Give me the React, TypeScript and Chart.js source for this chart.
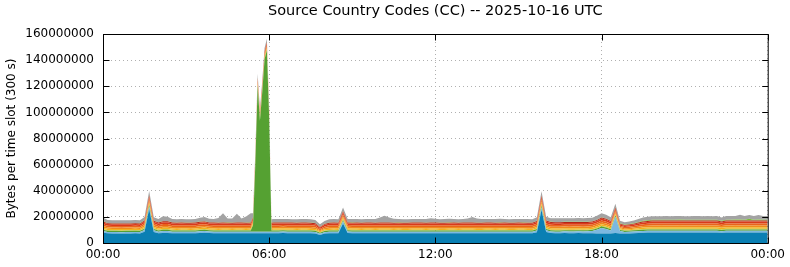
import React, { useEffect, useRef } from 'react';
import { Chart, registerables } from 'chart.js';

Chart.register(...registerables);

// Sample times (minutes after 00:00): every 10 minutes, plus the 5-minute slots around the 06:00 burst
const GRID_STEP_MINUTES = 10;
const EXTRA_SLOTS = [325, 335, 345, 355, 365];
const TIMES = Array.from({ length: 145 }, (_, i) => i * GRID_STEP_MINUTES).concat(EXTRA_SLOTS).sort((a, b) => a - b);

// Values in millions of bytes, one per sample time (150 samples)
const SERIES_NAMES = ['CC1', 'CC2', 'CC3', 'CC4', 'CC5', 'CC6', 'CC7', 'CC8', 'CC9', 'CC10', 'CC11'];
const SERIES_COLORS = ['#0a7fb3', '#7cb8e0', '#55a132', '#c9c83e', '#f2b21e', '#f08b1c', '#e8641c', '#d83a1a', '#b32418', '#7dbb3c', '#a3a3a3'];

const cc1 = [
  7.8, 7.4, 7.3, 7.3, 7.2, 7.3, 7.3, 7.4, 7.3, 8.6, 26.0, 8.4,
  7.5, 7.7, 7.7, 7.5, 7.4, 7.5, 7.5, 7.4, 7.5, 7.6, 7.8, 7.6,
  7.5, 7.4, 7.5, 7.5, 7.4, 7.5, 7.5, 7.4, 7.5,
  7.4, 7.4, 7.4, 7.4, 7.4, 7.4, 7.4, 7.4, 7.4,
  7.5, 7.5, 7.6, 7.5, 7.5, 7.4, 7.5, 7.5, 7.4, 7.3, 6.2,
  7.2, 7.4, 7.5, 7.4, 15.0, 7.6, 7.5, 7.5, 7.4, 7.5, 7.5, 7.4,
  7.5, 7.5, 7.5, 7.4, 7.5, 7.4, 7.4, 7.5, 7.5, 7.5, 7.4, 7.5,
  7.5, 7.4, 7.4, 7.5, 7.5, 7.4, 7.5, 7.5, 7.5, 7.4, 7.4, 7.5,
  7.5, 7.4, 7.5, 7.5, 7.4, 7.4, 7.5, 7.5, 7.4, 7.4, 8.2, 25.5,
  8.4, 7.6, 7.5, 7.5, 7.6, 7.5, 7.5, 7.6, 7.5, 7.5, 7.4, 7.3,
  7.2, 7.3, 7.3, 7.6, 7.3, 7.2, 7.3, 7.5, 7.7, 7.9, 8.0, 8.0,
  8.0, 8.1, 8.0, 8.0, 8.0, 8.1, 8.0, 8.0, 8.0, 8.1, 8.0, 8.0,
  8.0, 8.0, 7.8, 8.0, 8.0, 8.1, 8.0, 8.0, 8.0, 8.0, 8.1, 8.0,
  8.0,
];
const cc2 = [
  1.3, 1.1, 1.1, 1.1, 1.1, 1.1, 1.1, 1.1, 1.1, 1.3, 1.8, 1.3,
  1.2, 1.4, 1.4, 1.2, 1.2, 1.2, 1.2, 1.2, 1.2, 1.3, 1.4, 1.2,
  1.2, 1.2, 1.2, 1.2, 1.2, 1.2, 1.2, 1.2, 1.2,
  1.2, 1.2, 1.2, 1.2, 1.2, 1.2, 1.2, 1.2, 1.2,
  1.2, 1.2, 1.2, 1.2, 1.2, 1.2, 1.2, 1.2, 1.2, 1.1, 0.9,
  1.1, 1.2, 1.2, 1.2, 1.6, 1.2, 1.2, 1.2, 1.2, 1.2, 1.2, 1.2,
  1.2, 1.2, 1.2, 1.2, 1.2, 1.2, 1.2, 1.2, 1.2, 1.2, 1.2, 1.2,
  1.2, 1.2, 1.2, 1.2, 1.2, 1.2, 1.2, 1.2, 1.2, 1.2, 1.2, 1.2,
  1.2, 1.2, 1.2, 1.2, 1.2, 1.2, 1.2, 1.2, 1.2, 1.2, 1.4, 2.0,
  1.4, 1.2, 1.2, 1.2, 1.3, 1.3, 1.3, 1.3, 1.3, 1.4, 1.8, 2.8,
  4.2, 3.5, 2.2, 12.5, 1.8, 1.3, 1.3, 1.3, 1.3, 1.3, 1.3, 1.3,
  1.3, 1.3, 1.3, 1.3, 1.3, 1.3, 1.3, 1.3, 1.3, 1.3, 1.3, 1.3,
  1.3, 1.3, 1.2, 1.3, 1.3, 1.3, 1.3, 1.3, 1.3, 1.3, 1.3, 1.3,
  1.3,
];
const cc3 = [
  1.0, 0.9, 0.9, 0.9, 0.9, 0.9, 0.9, 0.9, 0.9, 1.0, 1.2, 1.0,
  0.9, 1.0, 1.0, 0.9, 0.9, 0.9, 0.9, 0.9, 0.9, 1.0, 1.0, 0.9,
  0.9, 0.9, 0.9, 0.9, 0.9, 0.9, 0.9, 0.9, 0.9,
  5.0, 52.0, 112.0, 85.0, 107.0, 132.0, 139.0, 87.0, 0.9,
  0.9, 0.9, 0.9, 0.9, 0.9, 0.9, 0.9, 0.9, 0.9, 0.9, 0.7,
  0.8, 0.9, 0.9, 0.9, 1.1, 0.9, 0.9, 0.9, 0.9, 0.9, 0.9, 0.9,
  0.9, 0.9, 0.9, 0.9, 0.9, 0.9, 0.9, 0.9, 0.9, 0.9, 0.9, 0.9,
  0.9, 0.9, 0.9, 0.9, 0.9, 0.9, 0.9, 0.9, 0.9, 0.9, 0.9, 0.9,
  0.9, 0.9, 0.9, 0.9, 0.9, 0.9, 0.9, 0.9, 0.9, 0.9, 1.0, 1.3,
  1.0, 0.9, 0.9, 0.9, 0.9, 0.9, 0.9, 0.9, 0.9, 0.9, 0.9, 1.0,
  1.2, 1.1, 1.0, 1.0, 0.9, 0.8, 0.8, 0.9, 0.9, 1.0, 1.0, 1.0,
  1.0, 1.0, 1.0, 1.0, 1.0, 1.0, 1.0, 1.0, 1.0, 1.0, 1.0, 1.0,
  1.0, 1.0, 0.95, 1.0, 1.0, 1.0, 1.0, 1.0, 1.0, 1.0, 1.0, 1.0,
  1.0,
];
const cc4 = [
  0.53, 0.48, 0.47, 0.48, 0.48, 0.47, 0.48, 0.48, 0.47, 0.53, 0.63, 0.52,
  0.5, 0.55, 0.55, 0.5, 0.5, 0.5, 0.49, 0.5, 0.5, 0.52, 0.53, 0.5,
  0.5, 0.5, 0.5, 0.5, 0.5, 0.5, 0.5, 0.5, 0.5,
  0.5, 0.5, 0.5, 0.5, 0.5, 0.5, 0.5, 0.5, 0.5,
  0.5, 0.5, 0.5, 0.5, 0.5, 0.5, 0.5, 0.5, 0.5, 0.48, 0.38,
  0.45, 0.5, 0.5, 0.5, 0.55, 0.5, 0.5, 0.5, 0.5, 0.5, 0.5, 0.5,
  0.5, 0.5, 0.5, 0.5, 0.5, 0.5, 0.5, 0.5, 0.5, 0.5, 0.5, 0.5,
  0.5, 0.5, 0.5, 0.5, 0.5, 0.5, 0.5, 0.5, 0.5, 0.5, 0.5, 0.5,
  0.5, 0.5, 0.5, 0.5, 0.5, 0.5, 0.5, 0.5, 0.5, 0.5, 0.53, 0.63,
  0.53, 0.52, 0.52, 0.53, 0.52, 0.52, 0.53, 0.52, 0.52, 0.53, 0.52, 0.55,
  0.58, 0.55, 0.53, 0.5, 0.4, 0.38, 0.4, 0.43, 0.48, 0.53, 0.55, 0.58,
  0.58, 0.58, 0.58, 0.58, 0.58, 0.58, 0.58, 0.58, 0.58, 0.58, 0.58, 0.58,
  0.58, 0.58, 0.55, 0.58, 0.58, 0.58, 0.58, 0.58, 0.58, 0.58, 0.58, 0.58,
  0.58,
];
const cc5 = [
  1.05, 0.95, 0.94, 0.95, 0.95, 0.94, 0.95, 0.96, 0.95, 1.05, 1.25, 1.05,
  1.0, 1.1, 1.1, 1.0, 1.0, 1.0, 0.98, 1.0, 1.0, 1.05, 1.05, 1.0,
  1.0, 1.0, 1.0, 1.0, 1.0, 1.0, 1.0, 1.0, 1.0,
  1.0, 1.0, 1.0, 1.0, 1.0, 1.0, 1.0, 1.0, 1.0,
  1.0, 1.0, 1.0, 1.0, 1.0, 1.0, 1.0, 1.0, 1.0, 0.97, 0.75,
  0.9, 1.0, 1.0, 1.0, 1.1, 1.0, 1.0, 1.0, 1.0, 1.0, 1.0, 1.0,
  1.0, 1.0, 1.0, 1.0, 1.0, 1.0, 1.0, 1.0, 1.0, 1.0, 1.0, 1.0,
  1.0, 1.0, 1.0, 1.0, 1.0, 1.0, 1.0, 1.0, 1.0, 1.0, 1.0, 1.0,
  1.0, 1.0, 1.0, 1.0, 1.0, 1.0, 1.0, 1.0, 1.0, 1.0, 1.05, 1.25,
  1.05, 1.05, 1.04, 1.05, 1.05, 1.05, 1.06, 1.05, 1.05, 1.05, 1.05, 1.1,
  1.15, 1.1, 1.05, 1.0, 0.8, 0.75, 0.8, 0.85, 0.95, 1.05, 1.1, 1.15,
  1.15, 1.15, 1.15, 1.15, 1.15, 1.15, 1.15, 1.15, 1.15, 1.15, 1.15, 1.15,
  1.15, 1.15, 1.1, 1.15, 1.15, 1.15, 1.15, 1.15, 1.15, 1.15, 1.15, 1.15,
  1.15,
];
const cc6 = [
  1.26, 1.14, 1.13, 1.14, 1.14, 1.13, 1.14, 1.15, 1.14, 1.26, 1.5, 1.26,
  1.2, 1.32, 1.32, 1.2, 1.2, 1.2, 1.18, 1.2, 1.2, 1.26, 1.26, 1.2,
  1.2, 1.2, 1.2, 1.2, 1.2, 1.2, 1.2, 1.2, 1.2,
  1.2, 1.2, 1.2, 1.2, 1.2, 1.2, 1.2, 1.2, 1.2,
  1.2, 1.2, 1.2, 1.2, 1.2, 1.2, 1.2, 1.2, 1.2, 1.16, 0.9,
  1.08, 1.2, 1.2, 1.2, 1.32, 1.2, 1.2, 1.2, 1.2, 1.2, 1.2, 1.2,
  1.2, 1.2, 1.2, 1.2, 1.2, 1.2, 1.2, 1.2, 1.2, 1.2, 1.2, 1.2,
  1.2, 1.2, 1.2, 1.2, 1.2, 1.2, 1.2, 1.2, 1.2, 1.2, 1.2, 1.2,
  1.2, 1.2, 1.2, 1.2, 1.2, 1.2, 1.2, 1.2, 1.2, 1.2, 1.26, 1.5,
  1.26, 1.26, 1.26, 1.26, 1.26, 1.26, 1.26, 1.26, 1.26, 1.26, 1.26, 1.32,
  1.38, 1.32, 1.26, 1.2, 0.96, 0.9, 0.96, 1.02, 1.14, 1.26, 1.32, 1.38,
  1.38, 1.38, 1.38, 1.38, 1.38, 1.38, 1.38, 1.38, 1.38, 1.38, 1.38, 1.38,
  1.38, 1.38, 1.32, 1.38, 1.38, 1.38, 1.38, 1.38, 1.38, 1.38, 1.38, 1.38,
  1.38,
];
const cc7 = [
  1.37, 1.24, 1.23, 1.24, 1.24, 1.23, 1.24, 1.25, 1.24, 1.37, 1.63, 1.37,
  1.3, 1.43, 1.43, 1.3, 1.3, 1.3, 1.28, 1.3, 1.3, 1.37, 1.37, 1.3,
  1.3, 1.3, 1.3, 1.3, 1.3, 1.3, 1.3, 1.3, 1.3,
  1.3, 1.3, 1.3, 1.3, 1.3, 1.3, 1.3, 1.3, 1.3,
  1.3, 1.3, 1.3, 1.3, 1.3, 1.3, 1.3, 1.3, 1.3, 1.26, 0.98,
  1.17, 1.3, 1.3, 1.3, 1.43, 1.3, 1.3, 1.3, 1.3, 1.3, 1.3, 1.3,
  1.3, 1.3, 1.3, 1.3, 1.3, 1.3, 1.3, 1.3, 1.3, 1.3, 1.3, 1.3,
  1.3, 1.3, 1.3, 1.3, 1.3, 1.3, 1.3, 1.3, 1.3, 1.3, 1.3, 1.3,
  1.3, 1.3, 1.3, 1.3, 1.3, 1.3, 1.3, 1.3, 1.3, 1.3, 1.37, 1.63,
  1.37, 1.37, 1.37, 1.37, 1.37, 1.37, 1.37, 1.37, 1.37, 1.37, 1.37, 1.43,
  1.5, 1.43, 1.37, 1.3, 1.04, 0.98, 1.04, 1.1, 1.24, 1.37, 1.43, 1.5,
  1.5, 1.5, 1.5, 1.5, 1.5, 1.5, 1.5, 1.5, 1.5, 1.5, 1.5, 1.5,
  1.5, 1.5, 1.43, 1.5, 1.5, 1.5, 1.5, 1.5, 1.5, 1.5, 1.5, 1.5,
  1.5,
];
const cc8 = [
  1.38, 1.25, 1.24, 1.23, 1.25, 1.24, 1.23, 1.24, 1.25, 1.36, 1.62, 1.38,
  1.31, 1.42, 1.44, 1.3, 1.29, 1.31, 1.29, 1.3, 1.31, 1.36, 1.38, 1.3,
  1.3, 1.31, 1.3, 1.29, 1.3, 1.31, 1.3, 1.3, 1.29,
  1.3, 1.3, 1.3, 1.3, 1.3, 1.3, 1.3, 1.3, 1.3,
  1.31, 1.3, 1.29, 1.3, 1.3, 1.31, 1.3, 1.3, 1.29, 1.25, 0.97,
  1.18, 1.3, 1.31, 1.3, 1.44, 1.3, 1.29, 1.3, 1.31, 1.3, 1.3, 1.29,
  1.3, 1.31, 1.3, 1.3, 1.29, 1.3, 1.31, 1.3, 1.3, 1.3, 1.29, 1.3,
  1.31, 1.3, 1.3, 1.29, 1.3, 1.3, 1.31, 1.3, 1.3, 1.29, 1.3, 1.31,
  1.3, 1.3, 1.29, 1.3, 1.31, 1.3, 1.3, 1.29, 1.3, 1.3, 1.36, 1.64,
  1.38, 1.37, 1.36, 1.38, 1.37, 1.37, 1.38, 1.36, 1.37, 1.38, 1.37, 1.42,
  1.51, 1.44, 1.36, 1.3, 1.05, 0.97, 1.03, 1.11, 1.25, 1.36, 1.44, 1.5,
  1.51, 1.5, 1.49, 1.5, 1.51, 1.5, 1.5, 1.49, 1.51, 1.5, 1.5, 1.49,
  1.5, 1.51, 1.42, 1.5, 1.49, 1.5, 1.51, 1.5, 1.5, 1.49, 1.5, 1.51,
  1.5,
];
const cc9 = [
  0.74, 0.67, 0.66, 0.67, 0.67, 0.66, 0.67, 0.67, 0.67, 0.74, 0.88, 0.74,
  0.7, 0.77, 0.77, 0.7, 0.7, 0.7, 0.69, 0.7, 0.7, 0.74, 0.74, 0.7,
  0.7, 0.7, 0.7, 0.7, 0.7, 0.7, 0.7, 0.7, 0.7,
  0.7, 0.7, 0.7, 0.7, 0.7, 0.7, 0.7, 0.7, 0.7,
  0.7, 0.7, 0.7, 0.7, 0.7, 0.7, 0.7, 0.7, 0.7, 0.68, 0.53,
  0.63, 0.7, 0.7, 0.7, 0.77, 0.7, 0.7, 0.7, 0.7, 0.7, 0.7, 0.7,
  0.7, 0.7, 0.7, 0.7, 0.7, 0.7, 0.7, 0.7, 0.7, 0.7, 0.7, 0.7,
  0.7, 0.7, 0.7, 0.7, 0.7, 0.7, 0.7, 0.7, 0.7, 0.7, 0.7, 0.7,
  0.7, 0.7, 0.7, 0.7, 0.7, 0.7, 0.7, 0.7, 0.7, 0.7, 0.74, 0.88,
  0.74, 0.74, 0.74, 0.74, 0.74, 0.74, 0.74, 0.74, 0.74, 0.74, 0.74, 0.77,
  0.8, 0.77, 0.74, 0.7, 0.56, 0.53, 0.56, 0.6, 0.67, 0.74, 0.77, 0.8,
  0.8, 0.8, 0.8, 0.8, 0.8, 0.8, 0.8, 0.8, 0.8, 0.8, 0.8, 0.8,
  0.8, 0.8, 0.77, 0.8, 0.8, 0.8, 0.8, 0.8, 0.8, 0.8, 0.8, 0.8,
  0.8,
];
const cc10 = [
  0.2, 0.2, 0.2, 0.2, 0.2, 0.2, 0.2, 0.2, 0.2, 0.2, 0.25, 0.2,
  0.2, 0.2, 0.2, 0.2, 0.2, 0.2, 0.2, 0.2, 0.2, 0.2, 0.2, 0.2,
  0.2, 0.2, 0.2, 0.2, 0.2, 0.2, 0.2, 0.2, 0.2,
  0.2, 0.2, 0.2, 0.2, 0.2, 0.2, 0.2, 0.2, 0.2,
  0.2, 0.2, 0.2, 0.2, 0.2, 0.2, 0.2, 0.2, 0.2, 0.2, 0.15,
  0.2, 0.2, 0.2, 0.2, 0.2, 0.2, 0.2, 0.2, 0.2, 0.2, 0.2, 0.2,
  0.2, 0.2, 0.2, 0.2, 0.2, 0.2, 0.2, 0.2, 0.2, 0.2, 0.2, 0.2,
  0.2, 0.2, 0.2, 0.2, 0.2, 0.2, 0.2, 0.2, 0.2, 0.2, 0.2, 0.2,
  0.2, 0.2, 0.2, 0.2, 0.2, 0.2, 0.2, 0.2, 0.2, 0.2, 0.2, 0.25,
  0.2, 0.2, 0.2, 0.2, 0.2, 0.2, 0.2, 0.2, 0.2, 0.2, 0.2, 0.2,
  0.25, 0.25, 0.25, 0.3, 0.3, 0.3, 0.35, 0.4, 0.45, 0.5, 0.5, 0.55,
  0.55, 0.55, 0.6, 0.55, 0.55, 0.6, 0.55, 0.55, 0.6, 0.55, 0.55, 0.6,
  0.55, 0.6, 0.55, 0.6, 0.55, 0.6, 0.7, 0.6, 1.3, 0.6, 0.6, 0.6,
  0.6,
];
const cc11 = [
  2.8, 2.2, 2.2, 2.2, 2.2, 2.2, 2.2, 2.2, 2.2, 2.4, 3.0, 2.5,
  2.5, 3.5, 3.2, 2.5, 2.5, 2.5, 2.5, 2.5, 2.5, 3.0, 3.2, 2.6,
  2.5, 3.5, 7.0, 3.0, 3.0, 6.5, 3.0, 4.5, 7.0,
  3.0, 3.0, 2.8, 2.6, 2.5, 2.5, 2.5, 2.5, 2.5,
  2.5, 2.6, 2.5, 2.5, 2.4, 2.5, 2.6, 2.5, 2.5, 2.4, 1.8,
  2.2, 2.5, 2.5, 2.5, 2.7, 2.5, 2.5, 2.5, 2.5, 2.5, 2.6, 2.7,
  3.8, 5.0, 3.8, 2.8, 2.5, 2.5, 2.5, 2.5, 2.5, 2.6, 2.7, 3.2,
  2.7, 2.5, 2.6, 2.8, 2.6, 2.5, 2.6, 3.0, 4.2, 3.0, 2.6, 2.5,
  2.6, 2.7, 2.8, 2.6, 2.5, 2.6, 2.5, 2.5, 2.6, 2.5, 2.6, 3.0,
  2.7, 2.8, 2.8, 2.8, 2.7, 2.8, 2.8, 2.8, 2.7, 2.8, 2.8, 2.9,
  3.0, 2.8, 2.6, 2.6, 2.0, 1.8, 1.9, 2.1, 2.3, 2.5, 2.6, 2.7,
  2.8, 2.7, 2.8, 2.8, 2.9, 2.8, 2.7, 2.8, 2.8, 2.9, 2.8, 2.8,
  2.8, 2.9, 2.4, 2.8, 2.9, 2.8, 3.8, 2.8, 3.0, 2.9, 3.6, 2.8,
  2.8,
];
const SERIES = [cc1, cc2, cc3, cc4, cc5, cc6, cc7, cc8, cc9, cc10, cc11];

const Y_TICKS = [0, 20000000, 40000000, 60000000, 80000000, 100000000, 120000000, 140000000, 160000000];
const X_TICK_MINUTES = [0, 360, 720, 1080, 1440];
const X_TICK_LABELS = ['00:00', '06:00', '12:00', '18:00', '00:00'];
const TITLE = 'Source Country Codes (CC) -- 2025-10-16 UTC';
const Y_TITLE = 'Bytes per time slot (300 s)';

const FONT = 'DejaVu Sans';

const framePlugin = {
  id: 'frame',
  afterDatasetsDraw(chart: any) {
    const { ctx, chartArea, scales } = chart;
    const { left, right, top, bottom } = chartArea;
    const l = left + 0.5, r = right + 0.5, t = top + 0.5, b = bottom + 0.5;
    ctx.save();
    ctx.strokeStyle = '#000';
    ctx.lineWidth = 1;
    ctx.setLineDash([]);
    ctx.strokeRect(l, t, r - l, b - t);
    ctx.beginPath();
    scales.y.ticks.forEach((tk: any) => {
      const py = Math.round(scales.y.getPixelForValue(tk.value)) + 0.5;
      ctx.moveTo(l, py); ctx.lineTo(l + 6, py);
      ctx.moveTo(r, py); ctx.lineTo(r - 6, py);
    });
    scales.x.ticks.forEach((tk: any) => {
      const px = Math.round(scales.x.getPixelForValue(tk.value)) + 0.5;
      ctx.moveTo(px, b); ctx.lineTo(px, b - 6);
      ctx.moveTo(px, t); ctx.lineTo(px, t + 6);
    });
    ctx.stroke();
    ctx.restore();
  },
};

export default function App() {
  const ref = useRef<HTMLCanvasElement | null>(null);
  useEffect(() => {
    const canvas = ref.current;
    if (!canvas) return;
    const datasets = SERIES.map((vals, si) => ({
      label: SERIES_NAMES[si],
      data: vals.map((v, i) => ({ x: TIMES[i], y: v * 1e6 })),
      backgroundColor: SERIES_COLORS[si],
      borderColor: SERIES_COLORS[si],
      borderWidth: 0,
      pointRadius: 0,
      fill: si === 0 ? 'origin' : '-1',
      tension: 0,
    }));
    const chart = new Chart(canvas, {
      type: 'line',
      data: { datasets },
      plugins: [framePlugin],
      options: {
        animation: false,
        responsive: false,
        maintainAspectRatio: false,
        layout: { padding: { left: 0, right: 22, top: 0, bottom: 0 } },
        plugins: {
          legend: { display: false },
          tooltip: { enabled: false },
          title: {
            display: true,
            text: TITLE,
            fullSize: false,
            color: '#000',
            font: { family: FONT, size: 14.5, weight: 'normal', lineHeight: 1.2 },
            padding: { top: 3, bottom: 13.6 },
          },
        },
        scales: {
          x: {
            type: 'linear',
            min: 0,
            max: 1440,
            afterFit: (s: any) => { s.height = 24; },
            afterBuildTicks: (s: any) => {
              s.ticks = X_TICK_MINUTES.map((v) => ({ value: v }));
            },
            ticks: {
              color: '#000',
              font: { family: FONT, size: 12 },
              padding: 5,
              maxRotation: 0,
              autoSkip: false,
              callback: (_v: any, i: number) => X_TICK_LABELS[i],
            },
            grid: { color: '#b0b0b0', lineWidth: 1, drawTicks: false },
            border: { display: false, dash: [1, 3] },
          },
          y: {
            type: 'linear',
            stacked: true,
            min: 0,
            max: 160000000,
            afterFit: (s: any) => { s.width = 103; },
            afterBuildTicks: (s: any) => {
              s.ticks = Y_TICKS.map((v) => ({ value: v }));
            },
            ticks: {
              color: '#000',
              font: { family: FONT, size: 12 },
              padding: 9,
              autoSkip: false,
              callback: (v: any) => String(v),
            },
            grid: { color: '#b0b0b0', lineWidth: 1, drawTicks: false },
            border: { display: false, dash: [1, 3] },
            title: {
              display: true,
              text: Y_TITLE,
              color: '#000',
              font: { family: FONT, size: 12, lineHeight: 1.2 },
              padding: { top: 5, bottom: 0 },
            },
          },
        },
      },
    });
    return () => chart.destroy();
  }, []);
  return (
    <div style={{ position: 'fixed', left: 0, top: 0, width: 790, height: 267 }}>
      <canvas ref={ref} width={790} height={267} style={{ display: 'block', width: 790, height: 267 }} />
    </div>
  );
}
